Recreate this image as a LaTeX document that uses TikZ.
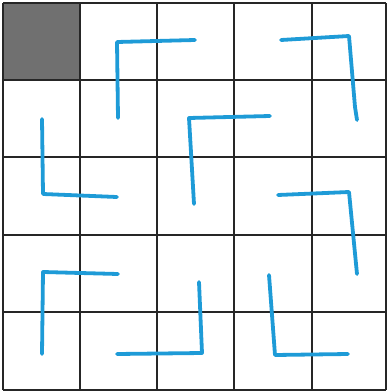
\documentclass[tikz,border=0pt]{standalone}
\begin{document}
\begin{tikzpicture}[x=1pt,y=-1pt,
  gridline/.style={draw=black!85,line width=1.1pt},
  pen/.style={draw=penblue,line width=3.8pt,line cap=round,line join=round}]
\definecolor{penblue}{RGB}{30,155,215}
\definecolor{cellgray}{RGB}{112,112,112}
\useasboundingbox (0,0) rectangle (387,391);
\fill[fill=cellgray] (3,3) rectangle (80,80);
\foreach \x in {3,80,157,234,312,386} \draw[gridline] (\x,3) -- (\x,390);
\foreach \y in {3,80,157,235,312,390} \draw[gridline] (3,\y) -- (386,\y);
% strokes
\draw[pen] (195,40) -- (117,42) -- (118,118);
\draw[pen] (281,40) -- (349,36) -- (355,107) -- (357,120);
\draw[pen] (42,119) -- (43,194) -- (117,197);
\draw[pen] (270,116) -- (189,118) -- (194,204);
\draw[pen] (278,195) -- (349,192) -- (357,274);
\draw[pen] (118,274) -- (43,272) -- (42,354);
\draw[pen] (117,354) -- (202,353) -- (199,282);
\draw[pen] (269,275) -- (275,355) -- (348,354);
\end{tikzpicture}
\end{document}
